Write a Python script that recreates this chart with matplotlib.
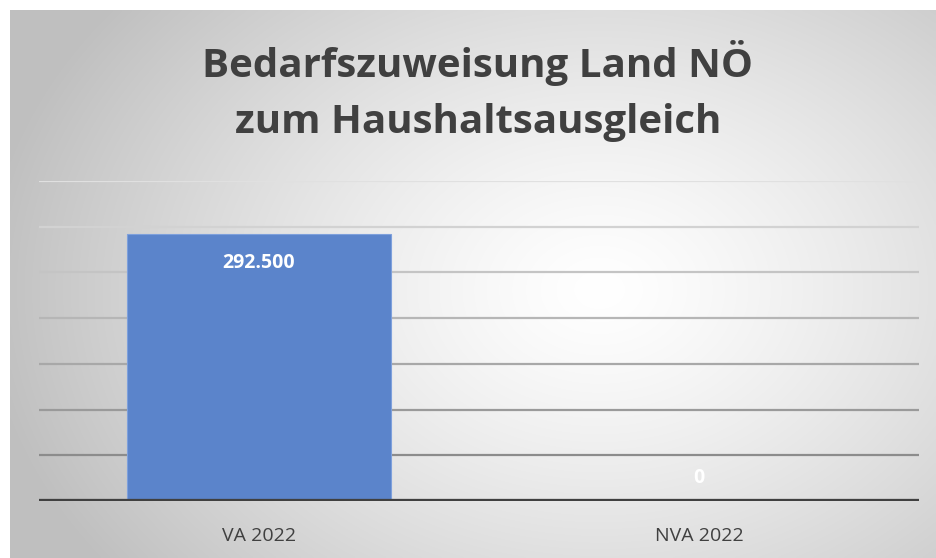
import numpy as np
import matplotlib
matplotlib.use("Agg")
import matplotlib.pyplot as plt

categories = ["VA 2022", "NVA 2022"]
values = [292500, 0]
value_labels = ["292.500", "0"]
title = "Bedarfszuweisung Land NÖ\nzum Haushaltsausgleich"
y_max = 350000
y_step = 50000

W, H = 936, 558
fig = plt.figure(figsize=(W / 100, H / 100), dpi=100)
fig.patch.set_facecolor("white")

# background frame with radial gradient
bg = fig.add_axes([10 / W, 0, (W - 10) / W, (H - 10) / H])
bg.set_axis_off()
nx, ny = 400, 240
xx, yy = np.meshgrid(np.linspace(10, W, nx), np.linspace(10, H, ny))
cx, cy = 600, 290
r = np.sqrt(((xx - cx) / 1.0) ** 2 + ((yy - cy) / 0.75) ** 2)
rmax = 620
t = np.clip(r / rmax, 0, 1)
shade = 1.0 - 0.25 * t ** 1.3
img = np.dstack([shade, shade, shade])
bg.imshow(img, aspect="auto", extent=[0, 1, 0, 1], origin="upper", interpolation="bilinear")
bg.set_xlim(0, 1)
bg.set_ylim(0, 1)

# main axes
left, right = 39, 919
base_y, top_y = 501, 181
ax = fig.add_axes([left / W, (H - base_y) / H, (right - left) / W, (base_y - top_y) / H])
ax.patch.set_alpha(0)
x = np.arange(len(categories))
ax.set_xlim(-0.5, len(categories) - 0.5)
ax.set_ylim(0, y_max)

grid_vals = np.arange(y_step, y_max + 1, y_step)
n = len(grid_vals)
for i, gv in enumerate(grid_vals):
    c = 0.55 + 0.33 * (i / (n - 1))
    ax.axhline(gv, color=(c, c, c), lw=1.6, zorder=1)

ax.bar(x, values, width=0.6, color="#5b84cb", edgecolor="#7ea0dc", linewidth=0.8, zorder=2)
ax.axhline(0, color="#404040", lw=3.8, zorder=3)

for xi, v, lab in zip(x, values, value_labels):
    ypos = v - 32000 if v > 0 else 25000
    ax.text(xi, ypos, lab, ha="center", va="center", color="white",
            fontsize=14, fontweight="bold", family="Open Sans", zorder=4)

for s in ax.spines.values():
    s.set_visible(False)
ax.set_yticks([])
ax.set_xticks(x)
ax.set_xticklabels(categories, fontsize=14, color="#404040", family="Open Sans")
ax.tick_params(axis="x", length=0, pad=19)

fig.text(478 / W, 1 - 91 / H, title, ha="center", va="center", fontsize=29,
         fontweight="bold", color="#404040", family="Open Sans", linespacing=1.55)

fig.savefig("out.png", dpi=100)
